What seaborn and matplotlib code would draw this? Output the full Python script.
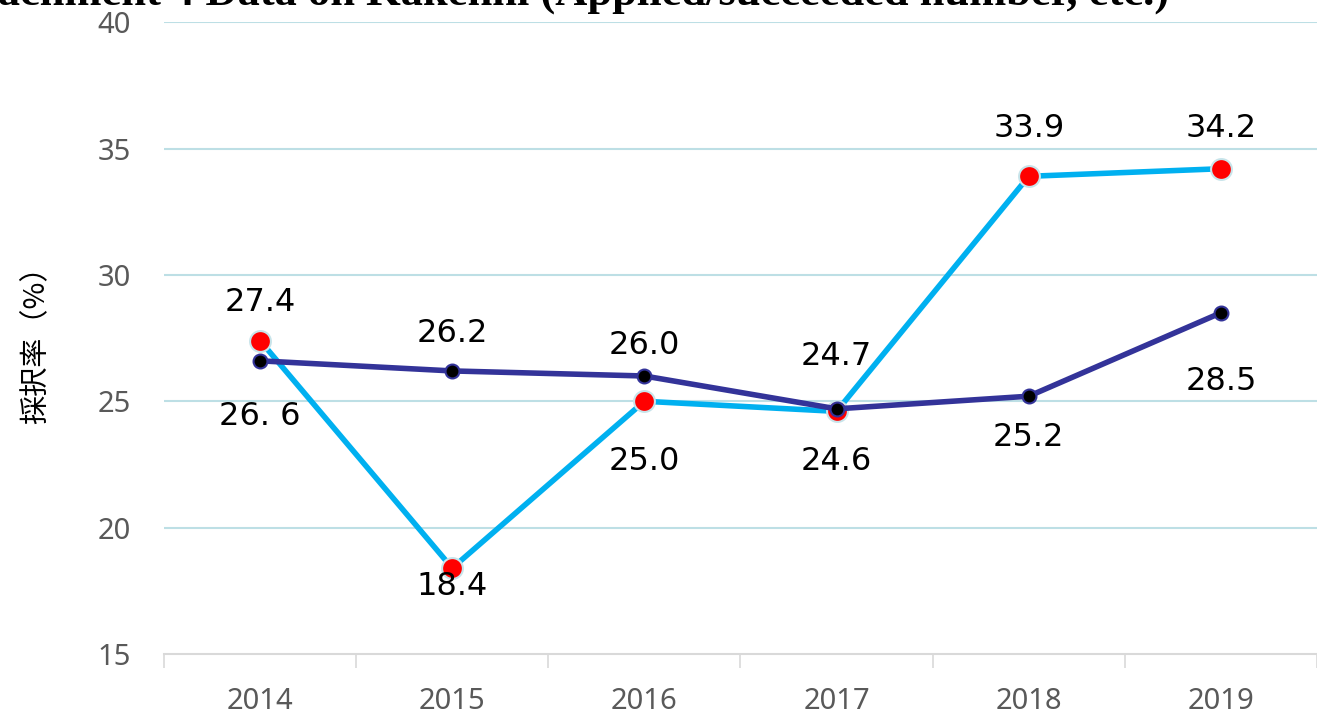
import matplotlib
matplotlib.use("Agg")
import matplotlib.pyplot as plt
import seaborn as sns
import pandas as pd
import numpy as np

years = ["2014", "2015", "2016", "2017", "2018", "2019"]
series_a = [27.4, 18.4, 25.0, 24.6, 33.9, 34.2]   # cyan line, red markers
series_b = [26.6, 26.2, 26.0, 24.7, 25.2, 28.5]   # navy line, black markers
labels_a = ["27.4", "18.4", "25.0", "24.6", "33.9", "34.2"]
labels_b = ["26. 6", "26.2", "26.0", "24.7", "25.2", "28.5"]
yticks = [15, 20, 25, 30, 35, 40]
title = "Attachment 4 Data on Kakenhi (Applied/succeeded number, etc.)"
ylabel = "採択率（%）"

# label offsets in pixels (style only)
off_a = [38, -18, -60, -50, 48, 40]
off_b = [-56, 37, 30, 52, -41, -69]

sns.set_theme(style="white")
plt.rcParams['font.family'] = ['Noto Sans', 'DejaVu Sans']

fig = plt.figure(figsize=(13.17, 7.14), dpi=100)
ax = fig.add_axes([0.1245, 0.084, 0.8755, 0.885])

df = pd.DataFrame({"x": np.arange(len(years)), "a": series_a, "b": series_b})

sns.lineplot(data=df, x="x", y="a", ax=ax, color="#00B0F0", linewidth=4,
             marker="o", markersize=15, markerfacecolor="#FF0000",
             markeredgecolor="#C8E4EA", markeredgewidth=1.5, zorder=3)
sns.lineplot(data=df, x="x", y="b", ax=ax, color="#333399", linewidth=4,
             marker="o", markersize=10, markerfacecolor="#000000",
             markeredgecolor="#333399", markeredgewidth=1.5, zorder=4)

for i in range(len(years)):
    ax.annotate(labels_a[i], (i, series_a[i]), xytext=(0, off_a[i] * 0.72),
                textcoords="offset points", ha="center", va="center",
                fontsize=23, color="black", family="DejaVu Sans", zorder=5)
    ax.annotate(labels_b[i], (i, series_b[i]), xytext=(0, off_b[i] * 0.72),
                textcoords="offset points", ha="center", va="center",
                fontsize=23, color="black", family="DejaVu Sans", zorder=5)

ax.set_ylim(15, 40)
ax.set_xlim(-0.5, 5.465)
ax.set_yticks(yticks)
ax.set_yticklabels([str(v) for v in yticks], fontsize=21, color="#595959")
ax.set_xticks(np.arange(len(years)))
ax.set_xticklabels(years, fontsize=21, color="#595959")
ax.tick_params(axis="x", which="major", length=0, pad=24)
ax.tick_params(axis="y", length=0, pad=24)
# minor ticks at category boundaries
ax.set_xticks(np.arange(-0.5, len(years), 1.0), minor=True)
ax.tick_params(axis="x", which="minor", bottom=True, length=10, width=1.2,
               color="#D9D9D9", direction="out")

for yv in yticks[1:]:
    ax.axhline(yv, color="#BDDFE5", linewidth=1.5, zorder=1)

for s in ["top", "right", "left"]:
    ax.spines[s].set_visible(False)
ax.spines["bottom"].set_color("#D9D9D9")
ax.spines["bottom"].set_linewidth(1.5)

ax.set_xlabel("")
ax.set_ylabel(ylabel, fontsize=21, color="black", family=["Noto Sans CJK JP", "DejaVu Sans"], labelpad=33)

fig.text(-64 / 1317, 1 - 5 / 714, title, ha="left", va="baseline", fontsize=32, fontweight="bold",
         family="Liberation Serif", color="black")

fig.savefig("out.png", dpi=100)
